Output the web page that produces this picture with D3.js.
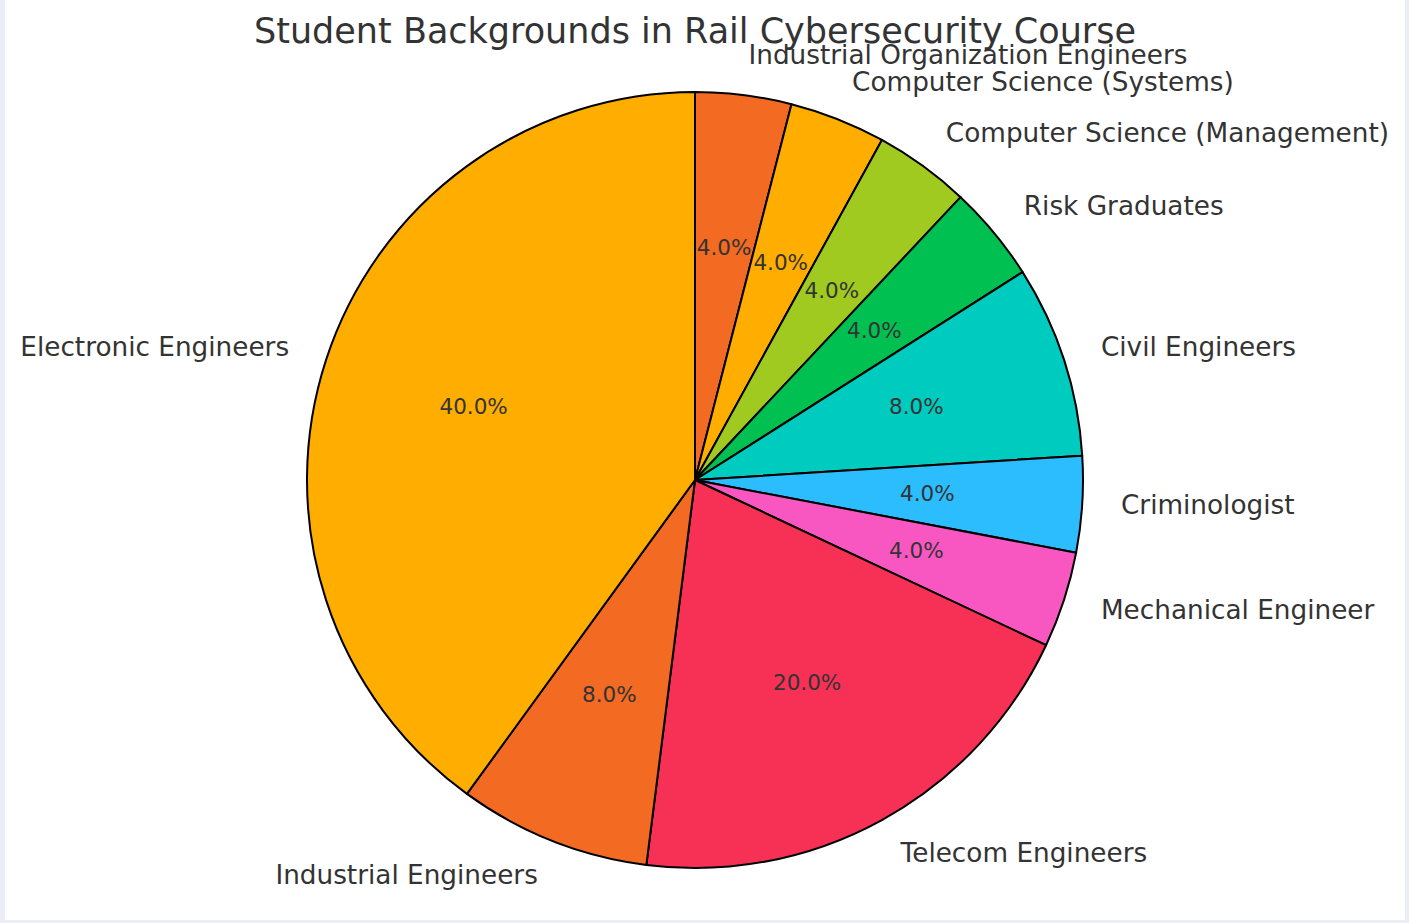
<!DOCTYPE html>
<html>
<head>
<meta charset="utf-8">
<script src="https://cdn.jsdelivr.net/npm/d3@7"></script>
<style>
  body { margin: 0; background: #eceef7; }
  svg { display: block; }
  text { font-family: "DejaVu Sans", sans-serif; fill: #333333; }
</style>
</head>
<body>
<svg id="chart" width="1409" height="923"></svg>
<script>
// slices go clockwise from 12 o'clock
const categories = [
  "Industrial Organization Engineers",
  "Computer Science (Systems)",
  "Computer Science (Management)",
  "Risk Graduates",
  "Civil Engineers",
  "Criminologist",
  "Mechanical Engineer",
  "Telecom Engineers",
  "Industrial Engineers",
  "Electronic Engineers"
];
const shares = [4, 4, 4, 4, 8, 4, 4, 20, 8, 40];
const colours = [
  "#f36a22", "#ffae00", "#a0ca1f", "#00c052", "#00cbbf",
  "#2bbdfd", "#f857c1", "#f63155", "#f36a22", "#ffae00"
];
const title = "Student Backgrounds in Rail Cybersecurity Course";

const svg = d3.select("#chart");
const cx = 695, cy = 480, r = 388;

svg.append("rect")
  .attr("x", 5).attr("y", 0)
  .attr("width", 1400).attr("height", 920)
  .attr("fill", "#ffffff");

const rows = categories.map((c, i) => ({name: c, value: shares[i], colour: colours[i]}));

const pie = d3.pie().sort(null).value(d => d.value);
const arcs = pie(rows);
const total = d3.sum(shares);

const arc = d3.arc().innerRadius(0).outerRadius(r);
const pctArc = d3.arc().innerRadius(0.6 * r).outerRadius(0.6 * r);
const labelArc = d3.arc().innerRadius(1.1 * r).outerRadius(1.1 * r);

const g = svg.append("g").attr("transform", `translate(${cx},${cy})`);

g.selectAll("path.slice")
  .data(arcs)
  .enter()
  .append("path")
  .attr("class", "slice")
  .attr("d", arc)
  .attr("fill", d => d.data.colour)
  .attr("stroke", "#000")
  .attr("stroke-width", 2)
  .attr("stroke-linejoin", "round");

g.selectAll("text.pct")
  .data(arcs)
  .enter()
  .append("text")
  .attr("class", "pct")
  .attr("x", d => pctArc.centroid(d)[0])
  .attr("y", d => pctArc.centroid(d)[1] - 1.5)
  .attr("text-anchor", "middle")
  .attr("dominant-baseline", "central")
  .style("font-size", "21.5px")
  .text(d => (100 * d.data.value / total).toFixed(1) + "%");

g.selectAll("text.label")
  .data(arcs)
  .enter()
  .append("text")
  .attr("class", "label")
  .attr("x", d => labelArc.centroid(d)[0])
  .attr("y", d => labelArc.centroid(d)[1] - 1.5)
  .attr("text-anchor", d => labelArc.centroid(d)[0] > 0 ? "start" : "end")
  .attr("dominant-baseline", "central")
  .style("font-size", "26.3px")
  .text(d => d.data.name);

svg.append("text")
  .attr("x", cx)
  .attr("y", 43)
  .attr("text-anchor", "middle")
  .style("font-size", "35px")
  .text(title);
</script>
</body>
</html>
